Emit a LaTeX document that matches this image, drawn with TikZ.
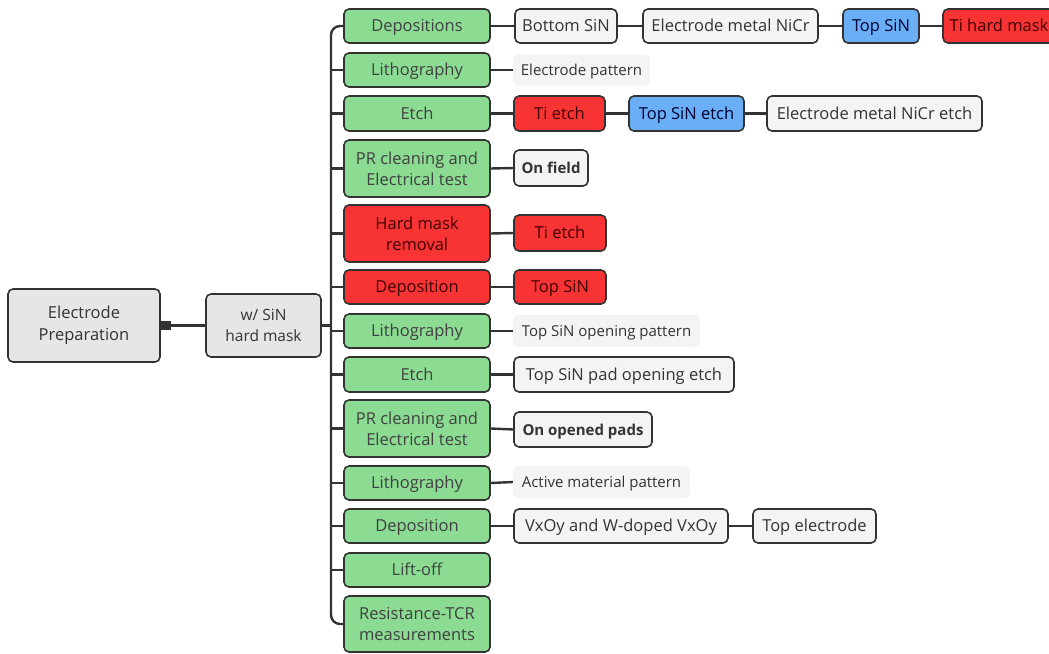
\documentclass[tikz,border=0pt]{standalone}
\usepackage{fontspec}
\setmainfont{Open Sans}
\usetikzlibrary{arrows.meta}
\definecolor{edge}{HTML}{333333}
\definecolor{grn}{HTML}{8BDB92}
\definecolor{rd}{HTML}{F83333}
\definecolor{bl}{HTML}{6AAEF6}
\definecolor{wh}{HTML}{F4F4F4}
\definecolor{gr}{HTML}{E6E6E6}
\definecolor{txt}{HTML}{333333}
\begin{document}
\begin{tikzpicture}[x=1pt,y=-1pt,
  box/.style={draw=edge, line width=1.6pt, rounded corners=5pt, text=txt, inner sep=0pt, align=center, font=\fontsize{16.5}{21}\selectfont},
  one/.style={text height=15.5pt, text depth=4pt},
  greenbox/.style={box, fill=grn, minimum width=146pt, text=black!75},
  redbox/.style={box, fill=rd, text=black!75!red},
  bluebox/.style={box, fill=bl, text=black!80!blue},
  whitebox/.style={box, fill=wh},
  boldbox/.style={whitebox, font=\fontsize{15}{18}\selectfont\bfseries},
  plainbox/.style={fill=wh, rounded corners=5pt, inner sep=0pt, text=txt, one, font=\fontsize{15}{18}\selectfont},
  rootbox/.style={box, fill=gr, font=\fontsize{16.5}{22}\selectfont},
  conn/.style={draw=edge, line width=2.4pt}
]
\useasboundingbox (0,0) rectangle (1049,653);
\clip (0,0) rectangle (1049,653);

\node[rootbox, minimum width=152pt, minimum height=73pt] (root) at (84,325.5) {Electrode\\Preparation};
\node[rootbox, minimum width=115pt, minimum height=63pt, font=\fontsize{15.5}{21}\selectfont] (p) at (263.5,325.5) {w/ SiN\\hard mask};

% main steps
\node[greenbox, one, minimum height=34pt] (g1) at (417,26) {Depositions};
\node[greenbox, one, minimum height=34pt] (g2) at (417,70) {Lithography};
\node[greenbox, one, minimum height=35pt] (g3) at (417,113.5) {Etch};
\node[greenbox, minimum height=57pt] (g4) at (417,168.5) {PR cleaning and\\Electrical test};
\node[redbox, minimum width=146pt, minimum height=57pt] (g5) at (417,233.5) {Hard mask\\removal};
\node[redbox, one, minimum width=146pt, minimum height=34pt] (g6) at (417,287) {Deposition};
\node[greenbox, one, minimum height=34pt] (g7) at (417,331) {Lithography};
\node[greenbox, one, minimum height=35pt] (g8) at (417,374.5) {Etch};
\node[greenbox, minimum height=57pt] (g9) at (417,428.5) {PR cleaning and\\Electrical test};
\node[greenbox, one, minimum height=34pt] (g10) at (417,483) {Lithography};
\node[greenbox, one, minimum height=34pt] (g11) at (417,526) {Deposition};
\node[greenbox, one, minimum height=34pt] (g12) at (417,570) {Lift-off};
\node[greenbox, minimum height=56pt] (g13) at (417,624) {Resistance-TCR\\measurements};

% trunk
\draw[conn, rounded corners=9pt] (g1.west) -- (331,26) -- (331,624) -- (g13.west);
\foreach \i in {2,...,12} \draw[conn] (331,0 |- g\i.west) -- (g\i.west);
\draw[conn] (p.east) -- (331,325.5);
\draw[conn, {Square[length=10pt,width=9pt]}-] (root.east) -- (p.west);

% row 1
\node[whitebox, one, minimum width=102pt, minimum height=34pt] (a1) at (566,26) {Bottom SiN};
\node[whitebox, one, minimum width=175pt, minimum height=34pt] (a2) at (730.5,26) {Electrode metal NiCr};
\node[bluebox, one, minimum width=76pt, minimum height=34pt] (a3) at (881,26) {Top SiN};
\node[redbox, one, minimum width=112pt, minimum height=34pt] (a4) at (999,26) {Ti hard mask};
\draw[conn] (g1.east) -- (a1.west);
\draw[conn] (a1.east) -- (a2.west);
\draw[conn] (a2.east) -- (a3.west);
\draw[conn] (a3.east) -- (a4.west);

% row 2
\node[plainbox, minimum width=137pt, minimum height=31pt] (b1) at (581.5,70) {Electrode pattern};
\draw[conn] (g2.east) -- (b1.west);

% row 3
\node[redbox, one, minimum width=91pt, minimum height=35pt] (c1) at (559.5,113.5) {Ti etch};
\node[bluebox, one, minimum width=115pt, minimum height=35pt] (c2) at (686.5,113.5) {Top SiN etch};
\node[whitebox, one, minimum width=215pt, minimum height=35pt] (c3) at (874.5,113.5) {Electrode metal NiCr etch};
\draw[conn] (g3.east) -- (c1.west);
\draw[conn] (c1.east) -- (c2.west);
\draw[conn] (c2.east) -- (c3.west);

% row 4
\node[boldbox, one, minimum width=74pt, minimum height=36pt] (d1) at (551,168) {On field};
\draw[conn] (g4.east) -- (d1.west);

% row 5
\node[redbox, one, minimum width=92pt, minimum height=36pt] (e1) at (560,233) {Ti etch};
\draw[conn] (g5.east) -- (e1.west);

% row 6
\node[redbox, one, minimum width=92pt, minimum height=34pt] (f1) at (560,287) {Top SiN};
\draw[conn] (g6.east) -- (f1.west);

% row 7
\node[plainbox, minimum width=187pt, minimum height=32pt] (h1) at (606.5,331) {Top SiN opening pattern};
\draw[conn] (g7.east) -- (h1.west);

% row 8
\node[whitebox, one, minimum width=220pt, minimum height=35pt] (i1) at (624,374.5) {Top SiN pad opening etch};
\draw[conn] (g8.east) -- (i1.west);

% row 9
\node[boldbox, one, minimum width=138pt, minimum height=35pt] (j1) at (583,429.5) {On opened pads};
\draw[conn] (g9.east) -- (j1.west);

% row 10
\node[plainbox, minimum width=177pt, minimum height=32pt] (k1) at (601.5,482) {Active material pattern};
\draw[conn] (g10.east) -- (k1.west);

% row 11
\node[whitebox, one, minimum width=214pt, minimum height=34pt] (l1) at (621,526) {VxOy and W-doped VxOy};
\node[whitebox, one, minimum width=123pt, minimum height=34pt] (l2) at (814.5,526) {Top electrode};
\draw[conn] (g11.east) -- (l1.west);
\draw[conn] (l1.east) -- (l2.west);
\end{tikzpicture}
\end{document}
